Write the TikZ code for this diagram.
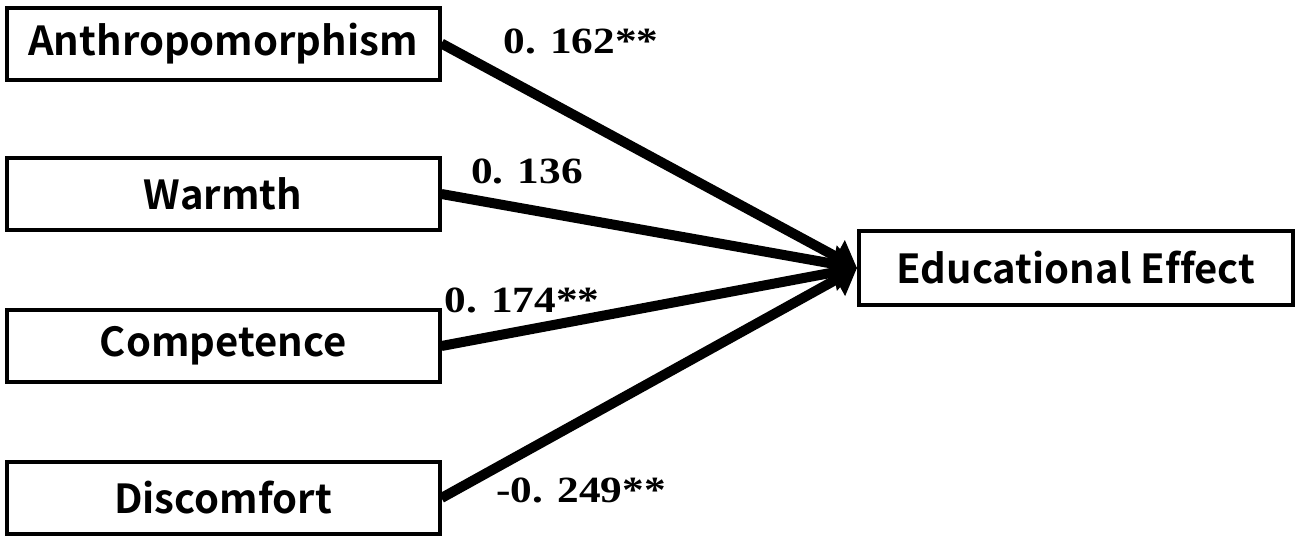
\documentclass[tikz,border=0pt]{standalone}
\usepackage{fontspec}
\usetikzlibrary{arrows.meta}
\newfontfamily\boxfont{Noto Sans CJK JP}[BoldFont={Noto Sans CJK JP Bold},Ligatures=NoCommon]
\newfontfamily\numfont{Liberation Serif}[FakeStretch=1.17]
\begin{document}
\begin{tikzpicture}[x=0.5pt,y=-0.5pt,
  varbox/.style={draw=black,line width=2pt,minimum width=216.5pt,minimum height=36pt,inner sep=0pt,
    font=\boxfont\bfseries\fontsize{20pt}{22pt}\selectfont},
  coef/.style={anchor=base,inner sep=0pt,font=\numfont\bfseries\fontsize{18.5pt}{20pt}\selectfont},
  path/.style={line width=5pt,-{Triangle[length=12pt,width=18pt]}}]
\useasboundingbox (0,0) rectangle (1300,541);
\node[varbox] (A) at (223,43.5) {Anthropomorphism};
\node[varbox] (W) at (223,194) {Warmth};
\node[varbox] (C) at (223,346) {Competence};
\node[varbox] (D) at (223,498) {Discomfort};
\node[varbox,minimum width=217pt,minimum height=37pt] (E) at (1076,268) {Educational Effect};
\draw[path] (A.east) -- (E.west);
\draw[path] (W.east) -- (E.west);
\draw[path] (C.east) -- (E.west);
\draw[path] (D.east) -- (E.west);
\node[coef] (lA) at (581,53) {0. 162**};
\node[coef] (lW) at (527,183) {0. 136};
\node[coef] (lC) at (522,312) {0. 174**};
\node[coef] (lD) at (581,502) {-0. 249**};
\end{tikzpicture}
\end{document}
